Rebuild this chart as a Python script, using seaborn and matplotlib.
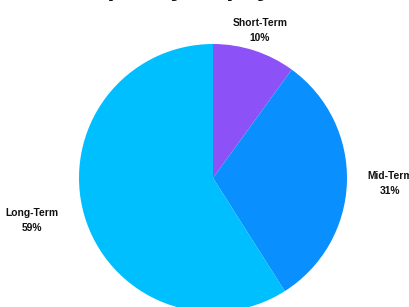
import matplotlib
matplotlib.use("Agg")
import matplotlib.pyplot as plt
import seaborn as sns

sns.set_theme(style="white")
plt.rcParams['font.family'] = ['Liberation Sans', 'DejaVu Sans']

categories = ["Short-Term", "Mid-Term", "Long-Term"]
values = [10, 31, 59]
colors = ["#8C52F7", "#0A8FFF", "#00BFFF"]
title = "Exposure Split by Repayment Strategy"

label_pos = [(0.35, 1.10), (1.32, -0.04), (-1.35, -0.32)]

fig = plt.figure(figsize=(4.10, 3.07), dpi=100)
ax = fig.add_axes([79 / 410, -5 / 307, 268 / 410, 268 / 307])
ax.pie(values, colors=colors, startangle=90, counterclock=False,
       wedgeprops=dict(linewidth=0), radius=1)
ax.set_xlim(-1, 1)
ax.set_ylim(-1, 1)
ax.set_aspect('equal')
ax.axis('off')

total = sum(values)
for cat, v, (x, y) in zip(categories, values, label_pos):
    ax.text(x, y, f"{cat}\n{round(100 * v / total)}%", ha='center', va='center',
            fontsize=7.4, fontweight='bold', color='#111111', linespacing=1.6,
            clip_on=False)

fig.text(0.5, 1.0 + 4 / 307, title, ha='center', va='baseline', fontsize=19,
         fontweight='bold', color='#111111')

fig.savefig("out.png", dpi=100)
